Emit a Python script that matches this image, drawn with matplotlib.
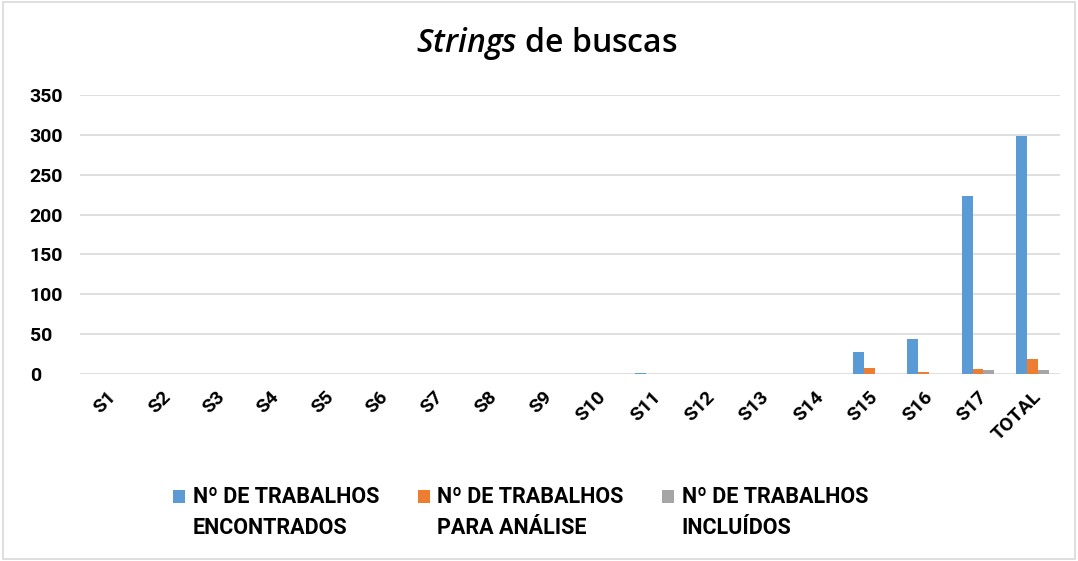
import numpy as np
import matplotlib
matplotlib.use("Agg")
import matplotlib.pyplot as plt
from matplotlib.patches import Rectangle
from matplotlib.container import BarContainer
from matplotlib.legend_handler import HandlerPatch, update_from_first_child

plt.rcParams['font.family'] = ['Roboto', 'DejaVu Sans']
plt.rcParams['mathtext.fontset'] = 'custom'
plt.rcParams['mathtext.it'] = 'Open Sans:italic:semibold'
plt.rcParams['mathtext.rm'] = 'Open Sans'

# data
categories = ['S1', 'S2', 'S3', 'S4', 'S5', 'S6', 'S7', 'S8', 'S9', 'S10',
              'S11', 'S12', 'S13', 'S14', 'S15', 'S16', 'S17', 'TOTAL']
encontrados = [0, 0, 0, 0, 0, 0, 0, 0, 0, 0, 1, 0, 0, 0, 28, 44, 223, 298]
analise = [0, 0, 0, 0, 0, 0, 0, 0, 0, 0, 0, 0, 0, 0, 8, 3, 7, 19]
incluidos = [0, 0, 0, 0, 0, 0, 0, 0, 0, 0, 0, 0, 0, 0, 0, 0, 5, 5]
series_labels = ['Nº DE TRABALHOS\nENCONTRADOS', 'Nº DE TRABALHOS\nPARA ANÁLISE',
                 'Nº DE TRABALHOS\nINCLUÍDOS']
colors = ['#5B9BD5', '#ED7D31', '#A5A5A5']

fig = plt.figure(figsize=(10.78, 5.61), dpi=100)
ax = fig.add_axes([0.074, 0.333, 0.909, 0.498])

x = np.arange(len(categories))
w = 0.2
for i, vals in enumerate([encontrados, analise, incluidos]):
    ax.bar(x + (i - 1) * w, vals, w, color=colors[i], label=series_labels[i], zorder=3)

ax.set_xlim(-0.5, len(categories) - 0.5)
ax.set_ylim(0, 350)
ax.set_yticks(range(0, 351, 50))
ax.yaxis.grid(True, color='#D9D9D9', linewidth=1.2, zorder=0)
for s in ax.spines.values():
    s.set_visible(False)
ax.tick_params(length=0)
ax.tick_params(axis='y', pad=36)
ax.set_yticklabels([str(v) for v in range(0, 351, 50)], fontsize=14, fontweight='bold', ha='left')
ax.set_xticks(x)
ax.set_xticklabels(categories, rotation=45, ha='right', rotation_mode='anchor',
                   fontsize=14, fontweight='bold')
ax.tick_params(axis='x', pad=10)

fig.text(0.507, 0.922, r'$\mathit{Strings}$ de buscas', ha='center', va='center', fontsize=23,
         family='Open Sans', fontweight='semibold')


# square marker next to the first line of each two-line label
def top_square(legend, orig_handle, xdescent, ydescent, width, height, fontsize):
    return Rectangle((-xdescent, -ydescent + 0.8 * fontsize), width, height)


leg = ax.legend(loc='upper center', bbox_to_anchor=(0.45, -0.33), ncol=3, frameon=False,
                prop={'size': 15.5, 'weight': 'bold'}, handlelength=0.55, handleheight=0.55,
                handletextpad=0.35, columnspacing=1.8,
                handler_map={BarContainer: HandlerPatch(patch_func=top_square,
                                                        update_func=update_from_first_child)})
for t in leg.get_texts():
    t.set_linespacing(1.55)

# chart border
fig.patches.append(plt.Rectangle((0.003, 0.003), 0.994, 0.994, transform=fig.transFigure,
                                 fill=False, edgecolor='#D9D9D9', linewidth=1.2))

fig.savefig('out.png', dpi=100)
